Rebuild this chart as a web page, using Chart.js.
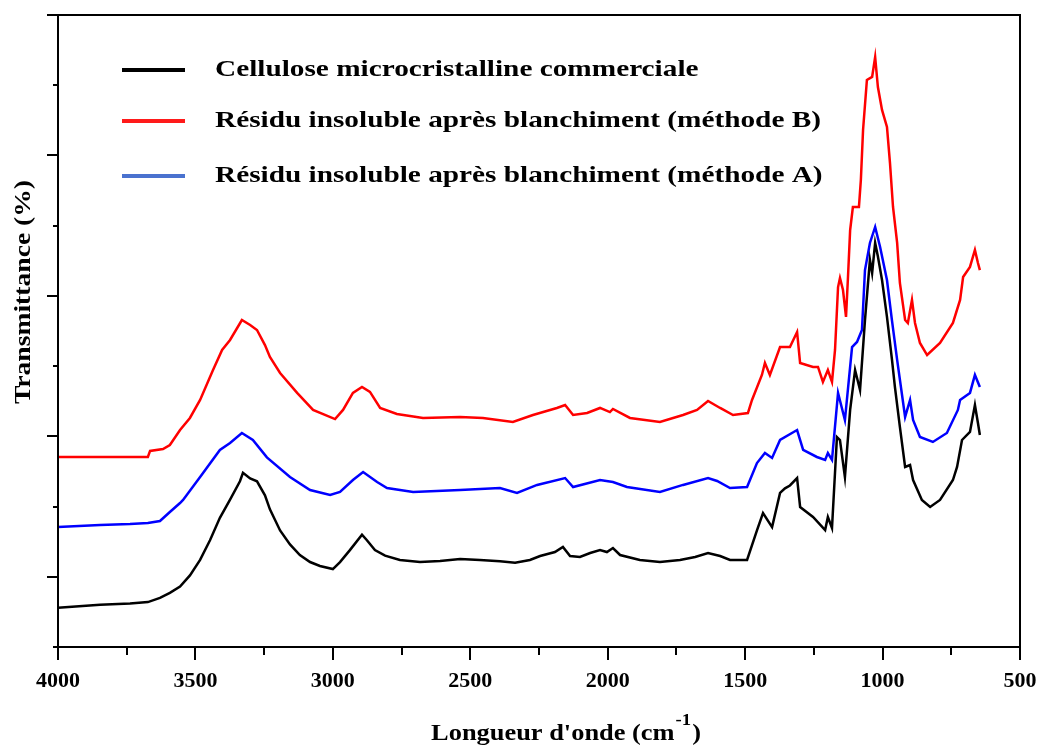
<!DOCTYPE html>
<html>
<head>
<meta charset="utf-8">
<title>Spectres IR</title>
<script src="https://cdn.jsdelivr.net/npm/chart.js@4.4.1/dist/chart.umd.min.js"></script>
<style>
  html, body { margin: 0; padding: 0; background: #fff; }
  canvas { display: block; }
</style>
</head>
<body>
<canvas id="ftir" width="1043" height="747"></canvas>
<script>
// Spectres IR (transmittance relative, courbes décalées verticalement)
const cmcWave = [4000,3847,3738,3673,3629,3593,3556,3520,3483,3447,3411,3374,3338,3327,3301,3276,3247,3229,3192,3156,3120,3083,3047,3000,2974,2938,2894,2876,2847,2810,2756,2683,2610,2537,2465,2392,2337,2283,2246,2192,2163,2137,2101,2064,2028,2003,1981,1955,1883,1810,1737,1682,1635,1591,1555,1493,1457,1435,1402,1373,1355,1337,1311,1300,1253,1209,1199,1184,1166,1155,1137,1118,1100,1082,1064,1046,1038,1027,1017,1002,984,966,955,937,918,900,889,857,827,791,744,729,711,682,664,653,646];
const cmcT = [0.28,0.30,0.31,0.32,0.35,0.385,0.43,0.51,0.62,0.76,0.92,1.05,1.18,1.24,1.20,1.18,1.08,0.98,0.83,0.73,0.655,0.605,0.577,0.555,0.605,0.69,0.80,0.76,0.69,0.65,0.62,0.605,0.612,0.627,0.62,0.61,0.60,0.62,0.648,0.676,0.712,0.648,0.641,0.669,0.69,0.676,0.705,0.655,0.62,0.605,0.62,0.641,0.669,0.648,0.62,0.62,0.83,0.954,0.854,1.097,1.13,1.15,1.203,0.997,0.926,0.833,0.926,0.847,1.495,1.474,1.21,1.688,1.972,1.83,2.328,2.756,2.663,2.877,2.78,2.613,2.35,2.05,1.851,1.567,1.282,1.296,1.189,1.047,0.997,1.047,1.189,1.282,1.474,1.531,1.723,1.595,1.51];

const methodBWave = [4000,3673,3665,3618,3593,3556,3520,3483,3436,3403,3374,3331,3301,3276,3247,3229,3192,3130,3072,2992,2963,2927,2894,2865,2828,2767,2672,2537,2454,2345,2272,2185,2155,2126,2075,2028,1992,1981,1919,1810,1726,1675,1635,1591,1544,1490,1475,1439,1428,1410,1373,1337,1311,1300,1253,1235,1217,1199,1184,1173,1162,1155,1144,1133,1126,1118,1108,1086,1079,1071,1057,1038,1027,1017,1002,984,973,962,947,937,918,908,893,882,864,838,791,744,718,707,682,664,653,646];
const methodBT = [1.353,1.353,1.396,1.41,1.438,1.545,1.631,1.759,1.972,2.115,2.186,2.328,2.293,2.257,2.15,2.065,1.951,1.809,1.688,1.623,1.688,1.809,1.851,1.816,1.702,1.659,1.631,1.638,1.631,1.602,1.652,1.702,1.723,1.652,1.666,1.702,1.673,1.695,1.631,1.602,1.652,1.688,1.752,1.702,1.652,1.666,1.759,1.937,2.022,1.937,2.136,2.136,2.243,2.022,1.994,1.994,1.887,1.972,1.887,2.115,2.563,2.627,2.542,2.35,2.627,2.969,3.133,3.133,3.325,3.681,4.037,4.059,4.201,3.987,3.824,3.703,3.446,3.133,2.877,2.592,2.328,2.307,2.471,2.307,2.165,2.079,2.165,2.307,2.471,2.634,2.706,2.827,2.734,2.684];

const methodAWave = [4000,3847,3738,3673,3629,3593,3556,3545,3483,3411,3374,3331,3291,3240,3156,3083,3010,2974,2927,2890,2839,2803,2708,2537,2392,2330,2257,2155,2126,2028,1981,1930,1810,1726,1635,1602,1555,1493,1457,1428,1402,1373,1311,1289,1239,1209,1199,1184,1162,1137,1111,1093,1075,1064,1046,1027,1009,984,966,947,918,900,889,864,817,766,726,718,682,664,646];
const methodAT = [0.854,0.869,0.876,0.883,0.897,0.961,1.025,1.047,1.21,1.403,1.453,1.524,1.474,1.35,1.21,1.118,1.082,1.104,1.189,1.246,1.175,1.132,1.104,1.118,1.132,1.097,1.154,1.203,1.139,1.189,1.175,1.139,1.104,1.154,1.203,1.182,1.132,1.139,1.31,1.381,1.346,1.474,1.545,1.403,1.353,1.332,1.381,1.332,1.809,1.616,2.136,2.172,2.257,2.684,2.877,2.991,2.848,2.613,2.328,2.044,1.638,1.759,1.616,1.495,1.46,1.524,1.688,1.759,1.809,1.937,1.851];

const seriesLabels = [
  'Cellulose microcristalline commerciale',
  'Résidu insoluble après blanchiment (méthode B)',
  'Résidu insoluble après blanchiment (méthode A)'
];
const xTickLabels = [4000, 3500, 3000, 2500, 2000, 1500, 1000, 500];

const serif = "'Liberation Serif', 'Times New Roman', serif";

function toPoints(wave, t) {
  return wave.map((w, i) => ({ x: w, y: t[i] }));
}

// texte élargi horizontalement (police du graphique d'origine plus large)
function wideText(ctx, text, x, y, sx) {
  ctx.save();
  ctx.translate(x, y);
  ctx.scale(sx, 1);
  ctx.fillText(text, 0, 0);
  ctx.restore();
}

// cadre, graduations, titres des axes et légende
const decorations = {
  id: 'decorations',
  afterDraw(chart) {
    const { ctx, chartArea: a, scales: { x, y } } = chart;
    ctx.save();
    ctx.strokeStyle = '#000';
    ctx.lineWidth = 2;
    ctx.strokeRect(a.left, a.top, a.right - a.left, a.bottom - a.top);

    ctx.beginPath();
    x.ticks.forEach(t => {
      const px = Math.round(x.getPixelForValue(t.value));
      const len = xTickLabels.includes(t.value) ? 13 : 8;
      ctx.moveTo(px, a.bottom);
      ctx.lineTo(px, a.bottom + len);
    });
    y.ticks.forEach(t => {
      const py = Math.round(y.getPixelForValue(t.value));
      const major = Math.round(t.value * 2) % 2 === 1;
      ctx.moveTo(a.left, py);
      ctx.lineTo(a.left - (major ? 11 : 5), py);
    });
    ctx.stroke();

    ctx.fillStyle = '#000';
    ctx.textAlign = 'left';
    ctx.textBaseline = 'alphabetic';

    // titre axe Y
    ctx.save();
    ctx.translate(30, 292);
    ctx.rotate(-Math.PI / 2);
    ctx.font = 'bold 24px ' + serif;
    const yTitle = 'Transmittance (%)';
    const yw = ctx.measureText(yTitle).width * 1.15;
    wideText(ctx, yTitle, -yw / 2, 0, 1.15);
    ctx.restore();

    // titre axe X avec exposant
    const sx = 1.1;
    const main = "Longueur d'onde (cm";
    const sup = '-1';
    const close = ')';
    ctx.font = 'bold 24px ' + serif;
    const wMain = ctx.measureText(main).width * sx;
    const wClose = ctx.measureText(close).width * sx;
    ctx.font = 'bold 17px ' + serif;
    const wSup = ctx.measureText(sup).width * sx;
    let cx = 566 - (wMain + wSup + wClose + 2) / 2;
    const base = 740;
    ctx.font = 'bold 24px ' + serif;
    wideText(ctx, main, cx, base, sx);
    cx += wMain + 1;
    ctx.font = 'bold 17px ' + serif;
    wideText(ctx, sup, cx, base - 15, sx);
    cx += wSup + 1;
    ctx.font = 'bold 24px ' + serif;
    wideText(ctx, close, cx, base, sx);

    // légende
    const rows = [70, 121, 176];
    chart.data.datasets.forEach((ds, i) => {
      ctx.strokeStyle = ds.legendColor;
      ctx.lineWidth = 4;
      ctx.beginPath();
      ctx.moveTo(122, rows[i]);
      ctx.lineTo(185, rows[i]);
      ctx.stroke();
      ctx.fillStyle = '#000';
      ctx.font = 'bold 24px ' + serif;
      wideText(ctx, ds.label, 215, rows[i] + 6, 1.22);
    });
    ctx.restore();
  }
};

new Chart(document.getElementById('ftir'), {
  type: 'line',
  data: {
    datasets: [
      { label: seriesLabels[0], data: toPoints(cmcWave, cmcT), borderColor: '#000000', legendColor: '#000000' },
      { label: seriesLabels[1], data: toPoints(methodBWave, methodBT), borderColor: '#ff0000', legendColor: '#ff1a1a' },
      { label: seriesLabels[2], data: toPoints(methodAWave, methodAT), borderColor: '#0000ff', legendColor: '#4a72cf' }
    ]
  },
  options: {
    responsive: false,
    animation: false,
    events: [],
    datasets: {
      line: { borderWidth: 2.5, pointRadius: 0, tension: 0, fill: false }
    },
    layout: { padding: { top: 15, right: 23, left: 0, bottom: 0 } },
    plugins: { legend: { display: false }, tooltip: { enabled: false } },
    scales: {
      x: {
        type: 'linear',
        reverse: true,
        min: 500,
        max: 4000,
        grid: { display: false, drawTicks: false },
        border: { display: false },
        ticks: {
          stepSize: 250,
          autoSkip: false,
          maxRotation: 0,
          padding: 21,
          color: '#000',
          font: { family: serif, size: 22, weight: 'bold' },
          callback: v => xTickLabels.includes(v) ? String(v) : ''
        },
        afterFit: s => { s.height = 100; s.paddingLeft = 0; s.paddingRight = 0; }
      },
      y: {
        type: 'linear',
        min: 0,
        max: 4.5,
        grid: { display: false, drawTicks: false },
        border: { display: false },
        ticks: { stepSize: 0.5, display: false },
        afterFit: s => { s.width = 58; s.paddingTop = 0; s.paddingBottom = 0; }
      }
    }
  },
  plugins: [decorations]
});
</script>
</body>
</html>
